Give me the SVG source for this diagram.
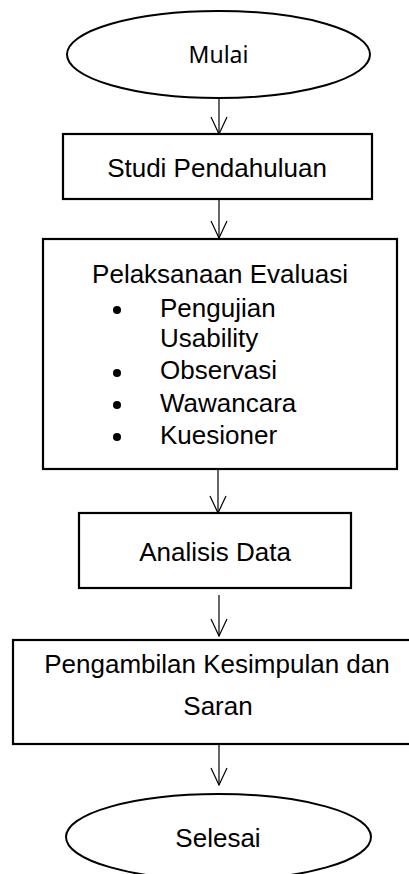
<svg xmlns="http://www.w3.org/2000/svg" width="409" height="874" viewBox="0 0 409 874">
<style>
.box{fill:#fff;stroke:#000;stroke-width:2.2}
.ell{fill:#fff;stroke:#000;stroke-width:2}
.t{font-family:"Liberation Sans",Arial,sans-serif;font-size:26px;fill:#000}
.tn{font-family:"Noto Sans","Open Sans",sans-serif;font-size:23px;fill:#000}
.c{fill:none;stroke:#000;stroke-width:1.2}
</style>
<defs>
<marker id="arr" markerUnits="userSpaceOnUse" markerWidth="20" markerHeight="20" viewBox="-19 -10 20 20" refX="0" refY="0" orient="auto">
<path d="M-17,-8 L0,0 L-17,8" fill="none" stroke="#000" stroke-width="1.2"/>
</marker>
</defs>
<rect width="409" height="874" fill="#fff"/>
<g id="connectors">
<path class="c" d="M219,93 L219,134" marker-end="url(#arr)"/>
<path class="c" d="M219,200 L219,238" marker-end="url(#arr)"/>
<path class="c" d="M218,470 L218,513" marker-end="url(#arr)"/>
<path class="c" d="M219,595 L219,636" marker-end="url(#arr)"/>
<path class="c" d="M219,745 L219,785" marker-end="url(#arr)"/>
</g>
<g id="mulai">
<ellipse class="ell" cx="218.5" cy="54.5" rx="151.5" ry="43.5"/>
<text class="tn" x="218.5" y="63" text-anchor="middle">Mulai</text>
</g>
<g id="studi">
<rect class="box" x="63" y="134" width="309" height="65"/>
<text class="t" x="217" y="177" text-anchor="middle">Studi Pendahuluan</text>
</g>
<g id="pelaksanaan">
<rect class="box" x="43" y="239" width="354" height="230"/>
<text class="t" x="220" y="283" text-anchor="middle">Pelaksanaan Evaluasi</text>
<circle cx="117" cy="310" r="4"/>
<text class="t" x="160" y="317">Pengujian</text>
<text class="t" x="160" y="347">Usability</text>
<circle cx="117" cy="373" r="4"/>
<text class="t" x="160" y="379">Observasi</text>
<circle cx="117" cy="405" r="4"/>
<text class="t" x="160" y="412">Wawancara</text>
<circle cx="117" cy="437" r="4"/>
<text class="t" x="160" y="444">Kuesioner</text>
</g>
<g id="analisis">
<rect class="box" x="79" y="513" width="272" height="75"/>
<text class="t" x="215" y="561" text-anchor="middle">Analisis Data</text>
</g>
<g id="pengambilan">
<rect class="box" x="13" y="640" width="410" height="104"/>
<text class="t" x="217" y="673" text-anchor="middle">Pengambilan Kesimpulan dan</text>
<text class="t" x="218" y="715" text-anchor="middle">Saran</text>
</g>
<g id="selesai">
<ellipse class="ell" cx="218.5" cy="837" rx="152.5" ry="43"/>
<text class="t" x="218" y="847" text-anchor="middle">Selesai</text>
</g>
</svg>
